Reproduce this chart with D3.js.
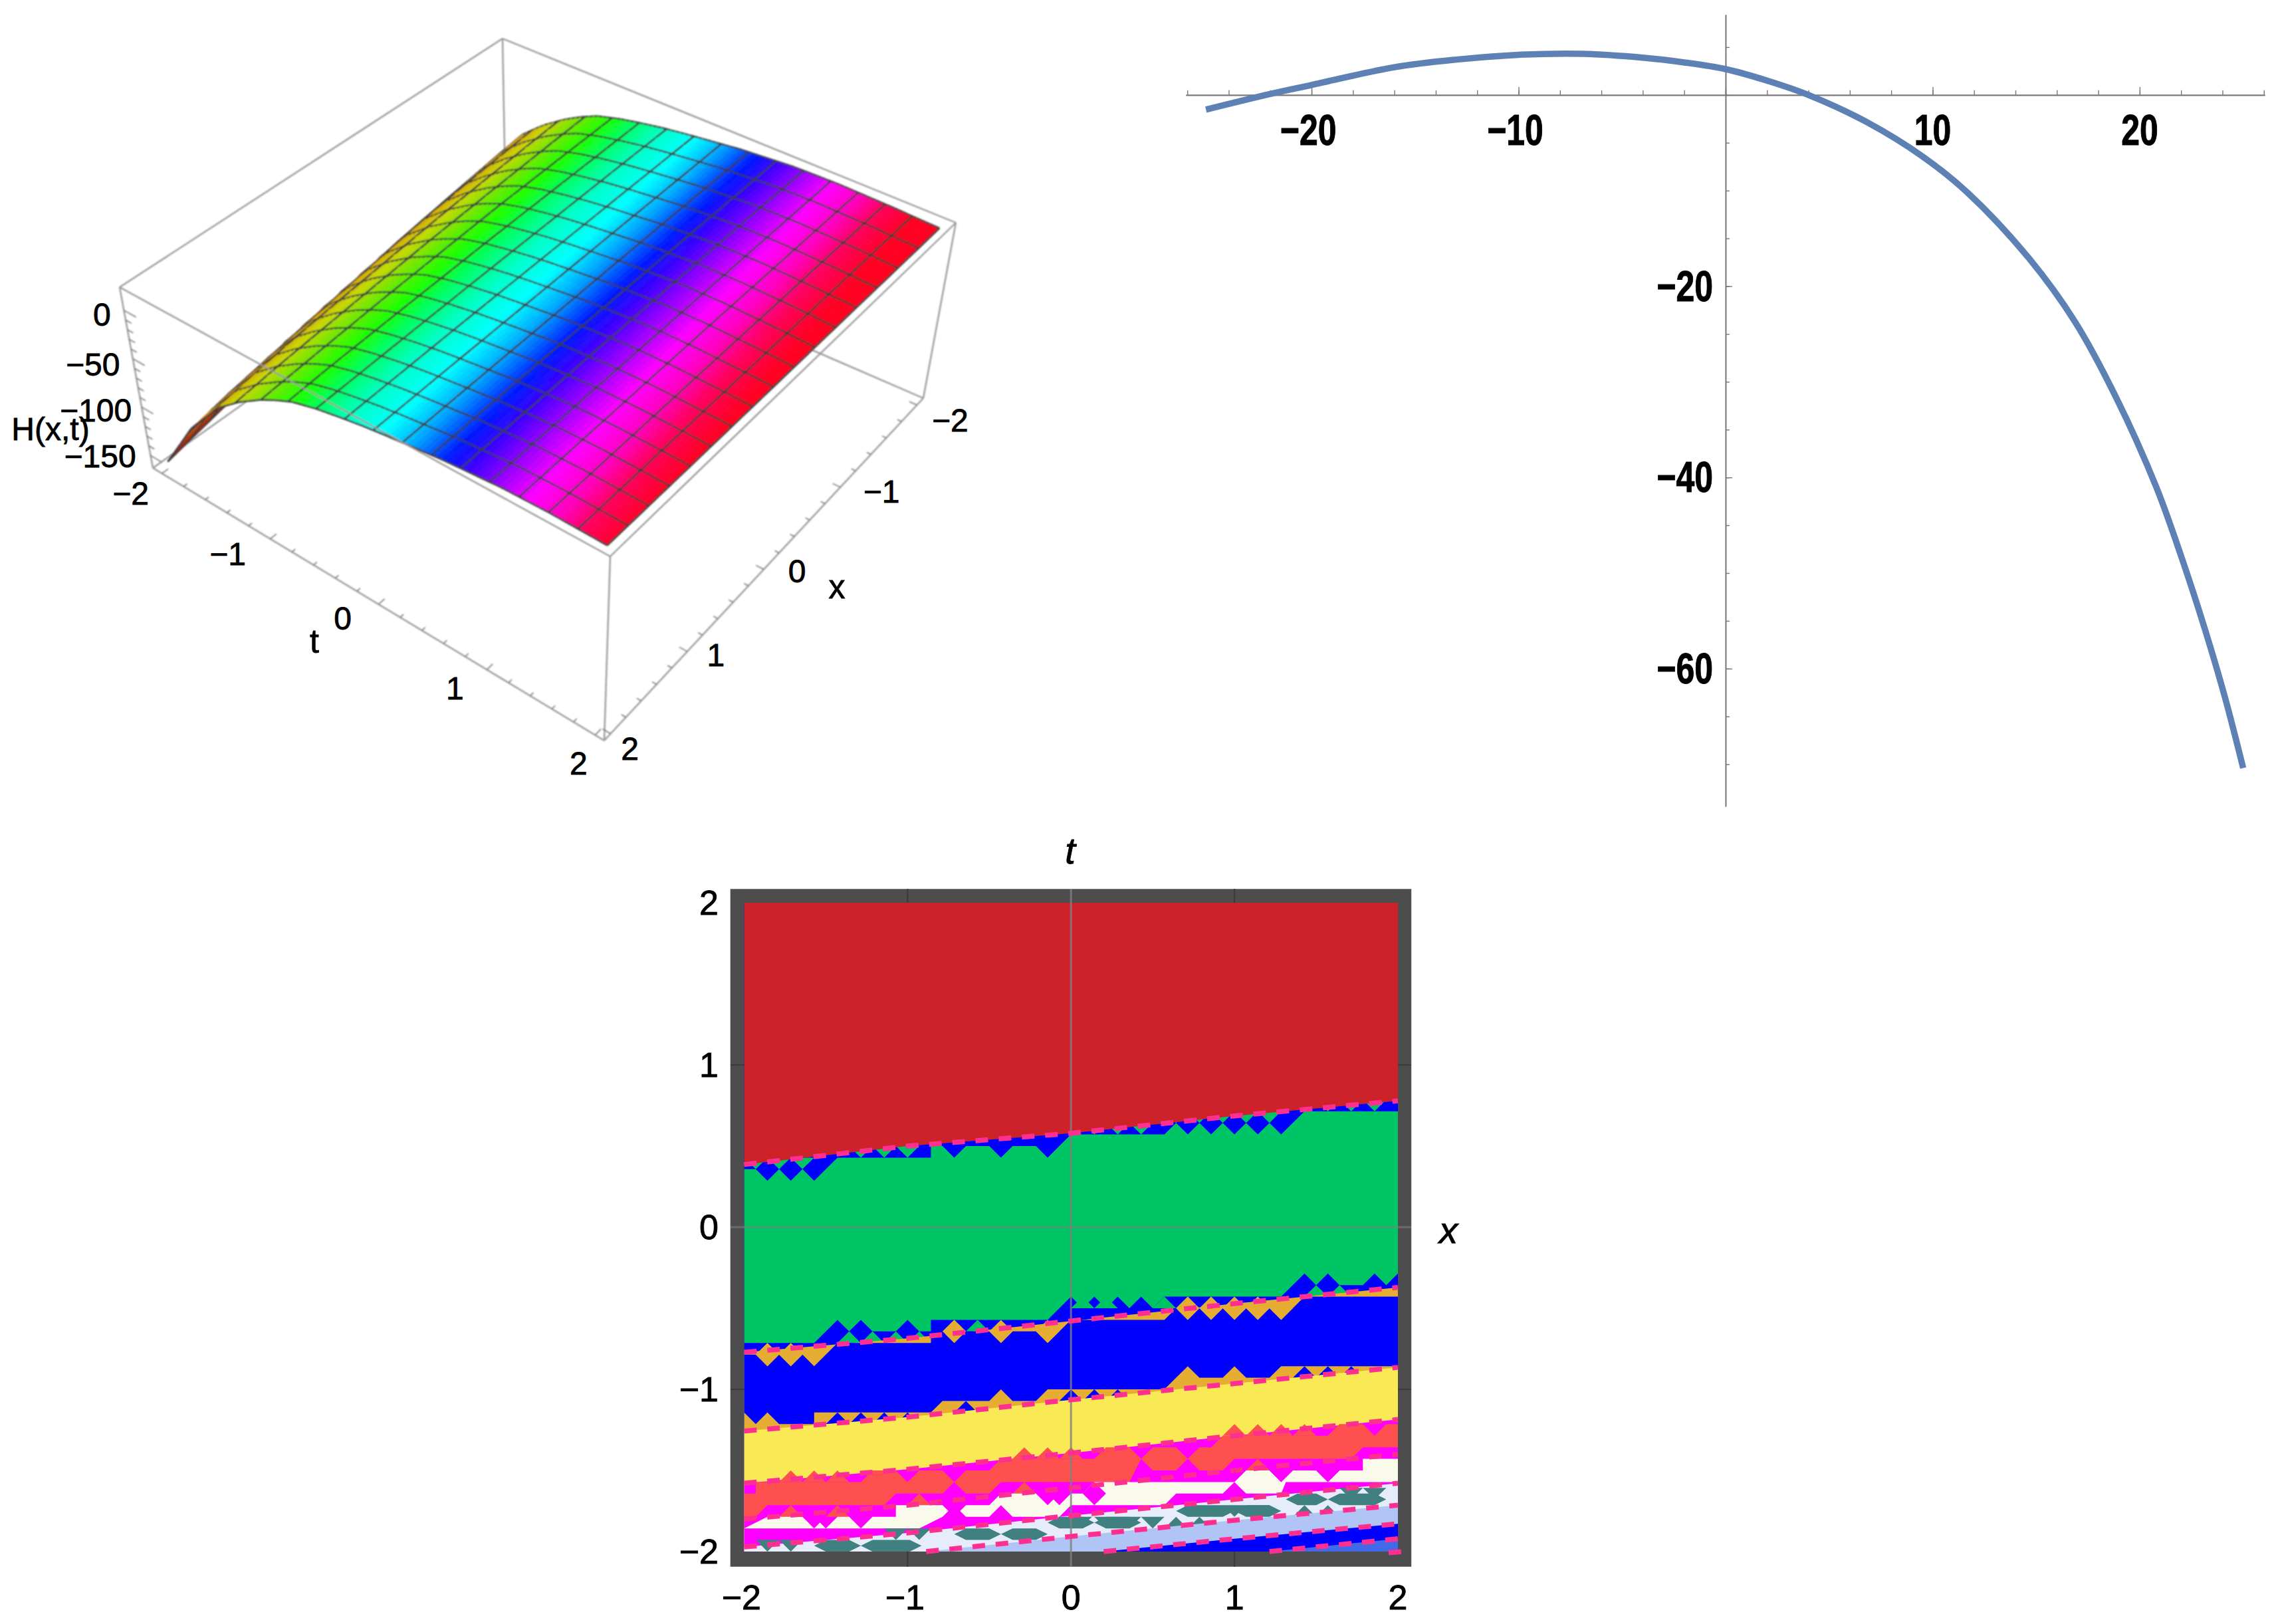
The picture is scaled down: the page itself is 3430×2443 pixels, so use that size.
<!DOCTYPE html>
<html><head><meta charset="utf-8">
<script src="https://cdn.jsdelivr.net/npm/d3@7/dist/d3.min.js"></script>
<style>html,body{margin:0;background:#fff}svg{display:block}text{font-family:"Liberation Sans",Arial,sans-serif;fill:#000}</style>
</head><body><svg id="c" width="3430" height="2443"></svg>
<script>
// ---------- Panel A : surface values
const surfT = [-2,-1.85,-1.7,-1.4,-1.2,-1,-0.85,-0.7,-0.5,-0.3,-0.1,0.1,0.6,1.1,1.5,2,2.5];
const surfH = [-156,-129,-101,-60,-41,-25.5,-16,-8,-1.5,3.4,7.6,11,18.4,23,24,23,21];
const hueT  = [-2,-1.875,-1.71,-1.5,-1.25,-0.96,-0.71,-0.5,-0.21,0.08,0.33,0.63,0.83,1.08,1.33,1.58,1.79,2.08,2.4];
const hueC  = ["#8a1400","#a82a00","#c87000","#d8a800","#c8d800","#70e800","#20ff00","#00ff60","#00ffc8","#00ffff","#00a8ff","#0018ff","#4000ff","#a000ff","#ff00ff","#ff00c0","#ff0060","#ff0020","#ff0020"];
const a3dT = [-2,-1,0,1,2];
const a3dX = [-2,-1,0,1,2];
const a3dZ = [0,-50,-100,-150];
// ---------- Panel B : curve
const curveX = [-25.1,-22,-20,-16,-13,-10,-6.9,-4,-2,0,2,4,6.79,9.5,11.71,14.66,16.87,18.83,20.8,22.03,23.14,24.12,25];
const curveY = [-1.53,0.1,1.04,2.9,3.7,4.2,4.3,3.9,3.4,2.7,1.5,0,-2.8,-6.41,-10.26,-17.1,-23.7,-31.5,-41,-48.4,-55.8,-63,-70.4];
const bTicksX = [-20,-10,10,20];
const bTicksY = [-20,-40,-60];
// ---------- Panel C : contour bands, [lattice i, lattice j]
const redLine = [[0,33.4],[7,35],[14,36.1],[21,37.6],[28,38.9]];
const greenTop = [[0,33],[.5,33],[1,32],[1.5,33],[2,32],[2.5,33],[3,32],[4,34],[8,34],[8,35],[8.5,35],[9,34],[9.5,35],[10.5,35],[11,34],[11.5,35],[12.5,35],[13,34],[14,36],[18,36],[18.5,37],[19,36],[19.5,37],[20,36],[20.5,37],[21,36],[21.5,37],[22,36],[22.5,37],[23,36],[24,38],[28,38]];
const greenWedges = [[1.5,33],[2.5,33],[.5,33],[5,34],[6,34],[7,34],[15,36],[16,36],[17,36],[18.5,37],[19.5,37],[20.5,37],[21.5,37],[22.5,37],[25,38],[26,38],[27,38]];
const blueTop = [[0,18],[3,18],[4,20],[4.5,19],[5,20],[5.5,19],[6.5,19],[7,20],[7.5,19],[8,19],[8,20],[13,20],[14,22],[14.5,21],[15,22],[15.5,21],[16,22],[16.5,21],[17,22],[17.5,21],[18,22],[23,22],[24,24],[24.5,23],[25,24],[25.5,23],[26.5,23],[27,24],[27.5,23],[28,24]];
const greenTris = [[1,17],[4.5,18],[5.5,18],[6.5,18],[7.5,18],[9,19],[10,19],[14.5,21],[15.5,21],[18,21],[19,21],[20,21],[21,21],[22,21],[24.5,22],[25.5,22]];
const orangeLine = [[0,17.2],[7,18.4],[14,19.9],[21,21.4],[28,22.8]];
const mainBlueTop = [[0,17],[.5,17],[1,16],[1.5,17],[2,16],[2.5,17],[3,16],[4,18],[8,18],[8,19],[8.5,19],[9,18],[9.5,19],[10.5,19],[11,18],[11.5,19],[12.5,19],[13,18],[14,20],[18,20],[18.5,21],[19,20],[19.5,21],[20,20],[20.5,21],[21,20],[21.5,21],[22,20],[22.5,21],[23,20],[24,22],[28,22]];
const orangeUpperDiamonds = [[1,17],[2,17],[9,19],[11,19],[13,19],[19,21],[20,21],[21,21],[22,21],[23,21]];
const orangeTop = [[0,12],[.5,11],[1,12],[1.5,11],[3,11],[3,12],[8,12],[8.5,13],[10.5,13],[11,14],[11.5,13],[12.5,13],[13,14],[18,14],[18.5,15],[19,16],[19.5,15],[20.5,15],[21,16],[21.5,15],[22.5,15],[23,16],[28,16]];
const blueTris = [[4,11],[5,11],[6,11],[7,11],[9.5,12],[14,13],[15,13],[16,13],[24,15],[25,15],[26,15]];
const yellowLine = [[0,10.4],[7,11.6],[14,13.1],[21,14.5],[28,15.9]];
const magentaLine = [[0,5.9],[7,7.1],[14,8.5],[21,10],[28,11.4]];
const coralTop = [[0,5],[.5,5],[.5,6],[5,6],[5.5,7],[6.5,7],[7,6],[7.5,7],[8.5,7],[9,6],[9.5,7],[10.5,7],[11,8],[15,8],[15.5,9],[16.5,9],[17,8],[17.5,9],[18.5,9],[19,8],[19.5,9],[20,9],[20.5,10],[25,10],[25.5,11],[26.5,11],[27,10],[27.5,11],[28,11]];
const coralUpTris = [[2,6],[3,6],[4,6],[12,8],[13,8],[14,8],[21,10],[22,10],[23,10],[24,10]];
const coralBottom = [[0,3],[.5,3],[1,4],[6,4],[6.5,5],[8.5,5],[9,6],[9.5,5],[10.5,5],[11,6],[16.5,6],[17,8],[17.5,7],[18.5,7],[19,8],[19.5,7],[20.5,7],[21,8],[26,8],[26.5,9],[28,9]];
const coralLowTris = [[2,3],[3,3],[4,3],[5,3],[7.5,4],[12,5],[13,5],[22,7],[23,7]];
const creamTop = [[0,2],[1,3],[3,3],[3.5,2],[4,3],[6.5,3],[6.5,4],[8.5,4],[9,3],[9.5,4],[10.5,4],[11,5],[13,5],[13.5,4],[14,5],[14.5,5],[15,6],[21,6],[21.5,7],[22.5,7],[23,6],[23.5,7],[24.5,7],[25,6],[25.5,7],[26.5,7],[26.5,8],[28,8]];
const creamBottom = [[0,2],[7.5,2],[8.5,3],[13.5,3],[14,4],[18,4],[18.5,5],[23,5],[23.2,6],[28,6]];
const magentaDiamonds = [[1,1],[3,3],[5,3],[9,3],[11,3],[13,5],[15,5],[21,5],[23,7],[25,7]];
const contour4 = [[0,2.8],[7,4],[14,5.5],[21,7],[28,8.4]];
const lavenderLine = [[0,.4],[7,1.6],[14,3.1],[21,4.5],[28,5.9]];
const periLine = [[7.8,0],[14,1.3],[21,2.7],[28,4]];
const deepBlueLine = [[15.4,0],[21,1.1],[28,2.4]];
const royalLine = [[22.5,0],[28,1.1]];
const cornerLine = [[27.6,-.1],[28.2,0]];
const tealBars = [[3,5,0],[5,7.6,0],[9,11,1],[11,13,1],[13,15,2],[15,17,2],[18.5,21,3],[21,23,3],[23.2,25,4],[25,27.5,4]];
const tealDownTris = [[1,0],[2,0],[6.5,1],[7.5,1],[14.4,2],[15.5,2],[16.5,2],[17.5,2],[21,3],[22,3],[26,4.5],[27,4.5]];
const tealUpTris = [[18.5,2],[19.5,2],[24,3],[25,3]];
const cTicks = [-2,-1,0,1,2];

const svg = d3.select("#c");
const defs = svg.append("defs");
defs.append("filter").attr("id","soft").attr("filterUnits","userSpaceOnUse").attr("x",0).attr("y",0).attr("width",3430).attr("height",2443)
  .append("feGaussianBlur").attr("stdDeviation",.8);
const minus = v => String(v).replace("-","\u2212");

// ================= Panel A
(function(){
  const uS = d3.scaleLinear().domain([2,-2]).range([.02,.98]);
  const vS = d3.scaleLinear().domain([-2,2]).range([.02,.98]);
  const wS = d3.scaleLinear().domain([-163,24]).range([0,1]);
  const zOf = d3.scaleLinear().domain(surfT).range(surfH).clamp(true);
  const colOf = d3.scaleLinear().domain(hueT).range(hueC).clamp(true);
  const zSkew = x => .11*(2-x);
  const colSkew = x => .075*(2-x);
  const c = {
    A:[230,704],B:[909,1114],C:[1389,599],D:[761,327],
    a:[180,432],b:[918,837],c:[1438,335],d:[756,58]};
  const lerp=(p,q,s)=>[p[0]+(q[0]-p[0])*s,p[1]+(q[1]-p[1])*s];
  const box=(u,v,w)=>{
    const lo=lerp(lerp(c.A,c.B,v),lerp(c.D,c.C,v),u);
    const hi=lerp(lerp(c.a,c.b,v),lerp(c.d,c.c,v),u);
    return lerp(lo,hi,w);
  };
  const proj=(x,t,z)=>box(uS(x),vS(t),wS(z));
  const surf=(x,t)=>proj(x,t,zOf(t+zSkew(x)));
  const g=svg.append("g").attr("filter","url(#soft)");
  const seg=(p,q,col,w,parent)=>(parent||g).append("line").attr("x1",p[0]).attr("y1",p[1]).attr("x2",q[0]).attr("y2",q[1]).attr("stroke",col).attr("stroke-width",w);
  const boxCol="#9a9a9a";
  [["a","d"],["d","c"],["d","D"],["A","D"],["D","C"]].forEach(e=>seg(c[e[0]],c[e[1]],boxCol,2.4));
  const nT=96,nX=32;
  const tAt=i=>-2+4*i/nT, xAt=i=>-2+4*i/nX;
  const line=d3.line();
  for(let i=0;i<nT;i++){
    for(let k=0;k<nX;k++){
      const t0=tAt(i),t1=tAt(i+1),x0=xAt(k),x1=xAt(k+1);
      const P=[surf(x0,t0),surf(x1,t0),surf(x1,t1),surf(x0,t1)];
      const col=colOf((t0+t1)/2+colSkew((x0+x1)/2));
      g.append("path").attr("d",line(P)+"Z").attr("fill",col).attr("stroke",col).attr("stroke-width",.8);
      const mc="#3c3c3c";
      if(i%6===0) seg(P[0],P[1],mc,2.7).attr("opacity",.95);
      if(i===nT-1) seg(P[2],P[3],mc,2.7);
      if(k%2===0) seg(P[0],P[3],mc,2.7).attr("opacity",.95);
      if(k===nX-1) seg(P[1],P[2],mc,2.7);
    }
  }
  [["A","a"],["a","b"],["b","c"],["c","C"],["b","B"],["A","B"],["B","C"]].forEach(e=>seg(c[e[0]],c[e[1]],boxCol,2.4));
  const tS=d3.scaleLinear().domain([-2,2]);
  tS.ticks(20).forEach(t=>{const L=Number.isInteger(t)?.018:.01;seg(box(0,vS(t),0),box(L,vS(t),0),"#777",1.6);});
  tS.ticks(20).forEach(x=>{const L=Number.isInteger(x)?.018:.01;seg(box(uS(x),1,0),box(uS(x),1-L,0),"#777",1.6);});
  d3.range(-150,1,10).forEach(z=>{const L=z%50===0?.025:.012;seg(box(0,0,wS(z)),box(0,L,wS(z)),"#777",1.6);});
  const lab=(s,x,y,size)=>svg.append("text").attr("x",x).attr("y",y).attr("text-anchor","middle").attr("dominant-baseline","central")
    .attr("font-size",size||48).attr("stroke","#000").attr("stroke-width",.8).text(s);
  const offT=[[-47,30],[-64,23],[-54,21],[-48,28],[-25,43]];
  a3dT.forEach((t,i)=>{const p=box(0,vS(t),0);lab(minus(t),p[0]+offT[i][0],p[1]+offT[i][1]);});
  const offX=[[50,23],[62,7],[50,3],[43,5],[29,23]];
  a3dX.forEach((x,i)=>{const p=box(uS(x),1,0);lab(minus(x),p[0]+offX[i][0],p[1]+offX[i][1]);});
  const offZ=[[-33,7],[-60,9],[-69,5],[-76,1]];
  a3dZ.forEach((z,i)=>{const p=box(0,0,wS(z));lab(minus(z),p[0]+offZ[i][0],p[1]+offZ[i][1]);});
  lab("H(x,t)",76,645,48);
  lab("t",473,965,50);
  lab("x",1259,883,50);
})();

// ================= Panel B
(function(){
  const x=d3.scaleLinear().domain([-26.07,26.04]).range([1784,3407]);
  const y=d3.scaleLinear().domain([8.4,-74.4]).range([22,1213]);
  const g=svg.append("g");
  const ax=(a,tr)=>{const s=g.append("g").attr("transform",tr).call(a);
    s.selectAll("path").attr("stroke","#777").attr("stroke-width",1.6);
    s.selectAll("line").attr("stroke","#777").attr("stroke-width",1.4);s.selectAll("text").remove();return s;};
  const y0=y(0), x0=x(0);
  ax(d3.axisTop(x).tickValues(d3.range(-26,27,2)).tickSize(7).tickSizeOuter(0),`translate(0,${y0})`);
  ax(d3.axisTop(x).tickValues(d3.range(-20,21,10)).tickSize(12).tickSizeOuter(0),`translate(0,${y0})`);
  ax(d3.axisRight(y).tickValues(d3.range(5,-71,-5)).tickSize(6).tickSizeOuter(0),`translate(${x0},0)`);
  ax(d3.axisRight(y).tickValues(d3.range(-20,-61,-20)).tickSize(10).tickSizeOuter(0),`translate(${x0},0)`);
  g.append("path").attr("d",d3.line().x(d=>x(d[0])).y(d=>y(d[1])).curve(d3.curveCatmullRom)(curveX.map((v,i)=>[v,curveY[i]])))
    .attr("fill","none").attr("stroke","#5e81b5").attr("stroke-width",9.5);
  const lab=(s,px,py,anchor)=>g.append("text").attr("transform",`translate(${px},${py}) scale(.78,1)`).attr("text-anchor",anchor)
    .attr("dominant-baseline","central").attr("font-size",64).attr("font-weight","bold").attr("stroke","#000").attr("stroke-width",1).text(s);
  bTicksX.forEach(v=>lab(minus(v),x(v)-(v<0?5:0),196,"middle"));
  bTicksY.forEach(v=>lab(minus(v),2577,y(v),"end"));
})();

// ================= Panel C
(function(){
  const L=1119.4,R=2103,T=1358,B=2334;
  const ix=d3.scaleLinear().domain([0,28]).range([L,R]);
  const jy=d3.scaleLinear().domain([0,56]).range([B,T]);
  const xS=d3.scaleLinear().domain([-2,2]).range([L,R]);
  const tS=d3.scaleLinear().domain([-2,2]).range([B,T]);
  const frame=svg.append("g");
  frame.append("rect").attr("x",1098.7).attr("y",1337.3).attr("width",1024.5).attr("height",1019.5).attr("fill","#4d4d4d");
  defs.append("clipPath").attr("id","pl").append("rect").attr("x",L).attr("y",T).attr("width",R-L).attr("height",B-T);
  const g=frame.append("g").attr("clip-path","url(#pl)");
  const areaDown=d3.area().x(d=>ix(d[0])).y0(jy(0)).y1(d=>jy(d[1]));
  const areaUp=d3.area().x(d=>ix(d[0])).y0(jy(56)).y1(d=>jy(d[1]));
  const down=(col,a)=>g.append("path").attr("d",areaDown(a)).attr("fill",col);
  const poly=(col,pts)=>g.append("path").attr("d",d3.line().x(d=>ix(d[0])).y(d=>jy(d[1]))(pts)+"Z").attr("fill",col);
  const triUp=(col,l)=>l.forEach(([i,j])=>poly(col,[[i-.5,j],[i+.5,j],[i,j+1]]));
  const triDown=(col,l)=>l.forEach(([i,j])=>poly(col,[[i,j],[i+.5,j+1],[i-.5,j+1]]));
  const dia=(col,l)=>l.forEach(([i,j])=>poly(col,[[i,j-1],[i+.5,j],[i,j+1],[i-.5,j]]));
  const RED="#cd2229",GREEN="#00c564",BLUE="#0000ff",ORANGE="#e5ae33",YEL="#f9ea55",CORAL="#ff5050",MAG="#ff00ff",CREAM="#fafaea",TEAL="#408080",LAV="#e6ecfa",PERI="#b0c4f5",ROYAL="#4169e8",PINK="#ff2f92";
  g.append("rect").attr("x",L).attr("y",T).attr("width",R-L).attr("height",B-T).attr("fill",BLUE);
  down(GREEN,greenTop); triDown(GREEN,greenWedges);
  g.append("path").attr("d",areaUp(redLine)).attr("fill",RED);
  down(BLUE,blueTop); triUp(GREEN,greenTris);
  down(ORANGE,orangeLine); down(BLUE,mainBlueTop); dia(ORANGE,orangeUpperDiamonds);
  down(ORANGE,orangeTop); triUp(BLUE,blueTris);
  down(YEL,yellowLine); down(MAG,magentaLine); down(CORAL,coralTop); triUp(CORAL,coralUpTris);
  down(MAG,coralBottom); triUp(CORAL,coralLowTris);
  down(CREAM,creamTop); down(MAG,creamBottom); dia(MAG,magentaDiamonds);
  down(LAV,lavenderLine);
  tealBars.forEach(([a,b,j])=>poly(TEAL,[[a,j+.5],[a+.5,j+1],[b-.5,j+1],[b,j+.5],[b-.5,j],[a+.5,j]]));
  triDown(TEAL,tealDownTris); triUp(TEAL,tealUpTris);
  down(PERI,periLine); down(BLUE,deepBlueLine); down(ROYAL,royalLine);
  [-1,1].forEach(v=>{
    frame.append("line").attr("x1",xS(v)).attr("x2",xS(v)).attr("y1",1337).attr("y2",T).attr("stroke","#3a3a3a").attr("stroke-width",2);
    frame.append("line").attr("x1",xS(v)).attr("x2",xS(v)).attr("y1",B).attr("y2",2357).attr("stroke","#3a3a3a").attr("stroke-width",2);
    frame.append("line").attr("x1",1099).attr("x2",L).attr("y1",tS(v)).attr("y2",tS(v)).attr("stroke","#3a3a3a").attr("stroke-width",2);
    frame.append("line").attr("x1",R).attr("x2",2123).attr("y1",tS(v)).attr("y2",tS(v)).attr("stroke","#3a3a3a").attr("stroke-width",2);
  });
  frame.append("line").attr("x1",xS(0)).attr("x2",xS(0)).attr("y1",1337).attr("y2",2357).attr("stroke","#808080").attr("stroke-width",3).attr("opacity",.8);
  frame.append("line").attr("x1",1099).attr("x2",2123).attr("y1",tS(0)).attr("y2",tS(0)).attr("stroke","#808080").attr("stroke-width",3).attr("opacity",.6);
  const dash=d3.line().x(d=>ix(d[0])).y(d=>jy(d[1]));
  [redLine,orangeLine,yellowLine,magentaLine,contour4,lavenderLine,periLine,deepBlueLine,royalLine,cornerLine].forEach(a=>
    frame.append("path").attr("d",dash(a)).attr("fill","none").attr("stroke",PINK).attr("stroke-width",7.5).attr("stroke-dasharray","19 16"));
  const lab=(s,x,y,a,size,it)=>svg.append("text").attr("x",x).attr("y",y).attr("text-anchor",a||"middle").attr("dominant-baseline","central")
    .attr("font-size",size||52).attr("font-style",it?"italic":"normal").attr("stroke","#000").attr("stroke-width",.9).text(s);
  cTicks.forEach(v=>{lab(minus(v),xS(v)-(v<0?4:0),2403);lab(minus(v),1081,tS(v),"end");});
  lab("t",1610,1279,"middle",56,true);
  lab("x",2179,1850,"middle",56,true);
})();
</script></body></html>
